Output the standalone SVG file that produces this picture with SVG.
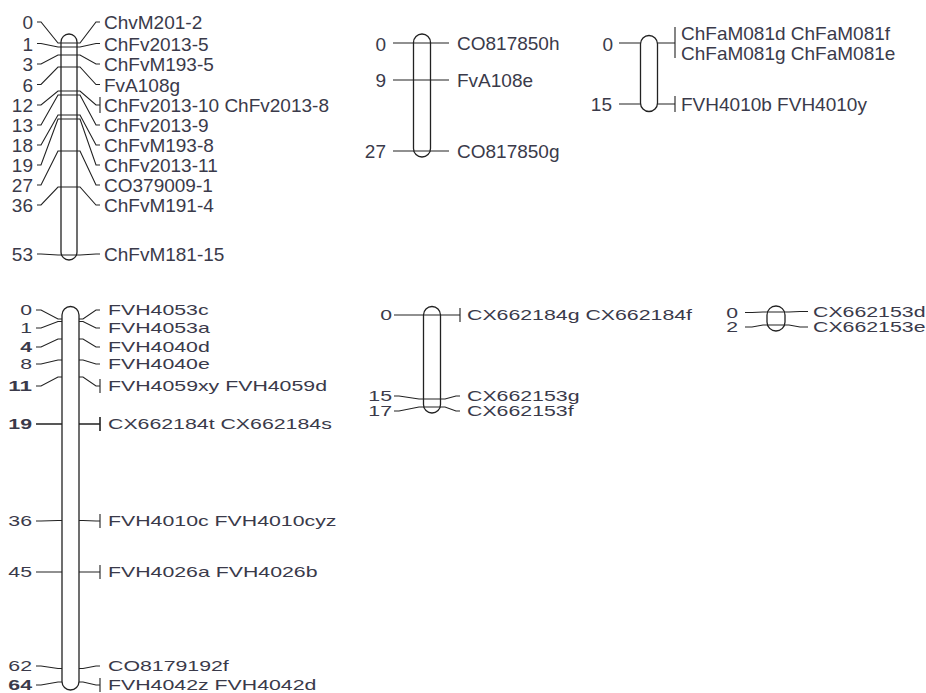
<svg xmlns="http://www.w3.org/2000/svg" width="926" height="693" viewBox="0 0 926 693">
<style>
.chr{fill:#fff;stroke:#222;stroke-width:1.3}
.ln{fill:none;stroke:#222;stroke-width:1.1}
.t{font-family:"Liberation Sans",Arial,sans-serif;font-size:19px;fill:#3a3a4a}
.b{font-size:15px}
.e{text-anchor:end}
</style>
<rect width="926" height="693" fill="#fff"/>
<g id="connectors" class="ln">
<path d="M37 22L41 22L58 43L80 43L96 22L100 22"/>
<path d="M37 43.5L41 43.5L58 47L80 47L96 43.5L100 43.5"/>
<path d="M37 64L41 64L58 55L80 55L96 64L100 64"/>
<path d="M37 84.5L41 84.5L58 67L80 67L96 84.5L100 84.5"/>
<path d="M37 105L41 105L58 91L80 91L96 105L100 105M100 97V113"/>
<path d="M37 125L41 125L58 95L80 95L96 125L100 125"/>
<path d="M37 145L41 145L58 115L80 115L96 145L100 145"/>
<path d="M37 165L41 165L58 119L80 119L96 165L100 165"/>
<path d="M37 185L41 185L58 151L80 151L96 185L100 185"/>
<path d="M37 205L41 205L58 187L80 187L96 205L100 205"/>
<path d="M37 254L41 254L58 255L80 255L96 254L100 254"/>
<path d="M393 43H449M393 80H449M393 151H449"/>
<path d="M619 43H675M675 27V58M619 104H675M675 96V112"/>
<path d="M36 310L41 310L58 319L83 319L96 310L100 310"/>
<path d="M36 328L41 328L58 321.5L83 321.5L96 328L100 328"/>
<path d="M36 347L41 347L58 339L83 339L96 347L100 347"/>
<path d="M36 364L41 364L58 360L83 360L96 364L100 364"/>
<path d="M36 386L41 386L58 377L83 377L96 386L100 386M100 379V393"/>
<path d="M36 424H100M100 417V431" stroke-width="1.6"/>
<path d="M36 521L41 521L58 520.5L83 520.5L96 521L100 521M100 514V528"/>
<path d="M36 572H100M100 565V579"/>
<path d="M36 666L41 666L58 668.5L83 668.5L96 666L100 666"/>
<path d="M36 685L41 685L58 682L83 682L96 685L100 685M100 678V692"/>
<path d="M394 315H460M460 308V322"/>
<path d="M394 396L399 396L419 399L445 399L456 396L460 396"/>
<path d="M394 411L399 411L419 407L445 407L456 411L460 411"/>
<path d="M745 312.5L752 312.5L763 312L789 312L800 311.5L808 311.5"/>
<path d="M745 327L752 327L763 325L789 325L800 327L808 327"/>
</g>
<g id="lg1" class="t">
<rect class="chr" x="61" y="34" width="16" height="226" rx="8"/>
<path class="ln" d="M61 43H77M61 47H77M61 55H77M61 67H77M61 91H77M61 95H77M61 115H77M61 119H77M61 151H77M61 187H77M61 255H77"/>
<text class="e" x="33" y="29">0</text>
<text class="e" x="33" y="50.5">1</text>
<text class="e" x="33" y="71">3</text>
<text class="e" x="33" y="91.5">6</text>
<text class="e" x="33" y="112">12</text>
<text class="e" x="33" y="132">13</text>
<text class="e" x="33" y="152">18</text>
<text class="e" x="33" y="172">19</text>
<text class="e" x="33" y="192">27</text>
<text class="e" x="33" y="212">36</text>
<text class="e" x="33" y="261">53</text>
<text x="104" y="29">ChvM201-2</text>
<text x="104" y="50.5">ChFv2013-5</text>
<text x="104" y="71">ChFvM193-5</text>
<text x="104" y="91.5">FvA108g</text>
<text x="104" y="112">ChFv2013-10 ChFv2013-8</text>
<text x="104" y="132">ChFv2013-9</text>
<text x="104" y="152">ChFvM193-8</text>
<text x="104" y="172">ChFv2013-11</text>
<text x="104" y="192">CO379009-1</text>
<text x="104" y="212">ChFvM191-4</text>
<text x="104" y="261">ChFvM181-15</text>
</g>
<g id="lg2" class="t">
<rect class="chr" x="413.5" y="34" width="17" height="123" rx="8.5"/>
<path class="ln" d="M413.5 43H430.5M413.5 80H430.5M413.5 151H430.5"/>
<text class="e" x="386" y="51">0</text>
<text class="e" x="386" y="87">9</text>
<text class="e" x="386" y="158">27</text>
<text x="457" y="50">CO817850h</text>
<text x="457" y="87">FvA108e</text>
<text x="457" y="158">CO817850g</text>
</g>
<g id="lg3" class="t">
<rect class="chr" x="640.5" y="35.5" width="17" height="76" rx="8.5"/>
<text class="e" x="613" y="51">0</text>
<text class="e" x="612" y="111">15</text>
<text x="681" y="40">ChFaM081d ChFaM081f</text>
<text x="681" y="59.5">ChFaM081g ChFaM081e</text>
<text x="681" y="111">FVH4010b FVH4010y</text>
</g>
<g id="lg4" class="t b">
<rect class="chr" x="62" y="306.5" width="17" height="383.5" rx="8.5"/>
<text class="e" x="32" y="315.4" textLength="11.8" lengthAdjust="spacingAndGlyphs">0</text>
<text class="e" x="32" y="333.4" textLength="11.8" lengthAdjust="spacingAndGlyphs">1</text>
<text class="e" x="32" y="352.4" textLength="11.8" lengthAdjust="spacingAndGlyphs" font-weight="bold">4</text>
<text class="e" x="32" y="369.4" textLength="11.8" lengthAdjust="spacingAndGlyphs">8</text>
<text class="e" x="32" y="391.4" textLength="23.7" lengthAdjust="spacingAndGlyphs" font-weight="bold">11</text>
<text class="e" x="32" y="429.4" textLength="23.7" lengthAdjust="spacingAndGlyphs" font-weight="bold">19</text>
<text class="e" x="32" y="526.4" textLength="23.7" lengthAdjust="spacingAndGlyphs">36</text>
<text class="e" x="32" y="577.4" textLength="23.7" lengthAdjust="spacingAndGlyphs">45</text>
<text class="e" x="32" y="671.4" textLength="23.7" lengthAdjust="spacingAndGlyphs">62</text>
<text class="e" x="32" y="690.4" textLength="23.7" lengthAdjust="spacingAndGlyphs" font-weight="bold">64</text>
<text x="108" y="315.4" textLength="100.6" lengthAdjust="spacingAndGlyphs">FVH4053c</text>
<text x="108" y="333.4" textLength="101.8" lengthAdjust="spacingAndGlyphs">FVH4053a</text>
<text x="108" y="352.4" textLength="101.8" lengthAdjust="spacingAndGlyphs">FVH4040d</text>
<text x="108" y="369.4" textLength="101.8" lengthAdjust="spacingAndGlyphs">FVH4040e</text>
<text x="108" y="391.4" textLength="219" lengthAdjust="spacingAndGlyphs">FVH4059xy FVH4059d</text>
<text x="108" y="429.4" textLength="223.8" lengthAdjust="spacingAndGlyphs">CX662184t CX662184s</text>
<text x="108" y="526.4" textLength="228.5" lengthAdjust="spacingAndGlyphs">FVH4010c FVH4010cyz</text>
<text x="108" y="577.4" textLength="209.5" lengthAdjust="spacingAndGlyphs">FVH4026a FVH4026b</text>
<text x="108" y="671.4" textLength="120.8" lengthAdjust="spacingAndGlyphs">CO8179192f</text>
<text x="108" y="690.4" textLength="208.4" lengthAdjust="spacingAndGlyphs">FVH4042z FVH4042d</text>
</g>
<g id="lg5" class="t b">
<rect class="chr" x="423.5" y="306.5" width="17" height="106.5" rx="8.5"/>
<path class="ln" d="M423.5 315H440.5M423.5 399H440.5M423.5 407H440.5"/>
<text class="e" x="392" y="320.4" textLength="11.8" lengthAdjust="spacingAndGlyphs">0</text>
<text class="e" x="392" y="401.4" textLength="23.7" lengthAdjust="spacingAndGlyphs">15</text>
<text class="e" x="392" y="416.4" textLength="23.7" lengthAdjust="spacingAndGlyphs">17</text>
<text x="467" y="320.4" textLength="225" lengthAdjust="spacingAndGlyphs">CX662184g CX662184f</text>
<text x="467" y="401.4" textLength="112.5" lengthAdjust="spacingAndGlyphs">CX662153g</text>
<text x="467" y="416.4" textLength="106.6" lengthAdjust="spacingAndGlyphs">CX662153f</text>
</g>
<g id="lg6" class="t b">
<rect class="chr" x="767" y="306" width="18" height="25" rx="9"/>
<path class="ln" d="M767 312H785M767 325H785"/>
<text class="e" x="738" y="317.9" textLength="11.8" lengthAdjust="spacingAndGlyphs">0</text>
<text class="e" x="738" y="332.4" textLength="11.8" lengthAdjust="spacingAndGlyphs">2</text>
<text x="813" y="316.9" textLength="112.5" lengthAdjust="spacingAndGlyphs">CX662153d</text>
<text x="813" y="332.4" textLength="112.5" lengthAdjust="spacingAndGlyphs">CX662153e</text>
</g>
</svg>
